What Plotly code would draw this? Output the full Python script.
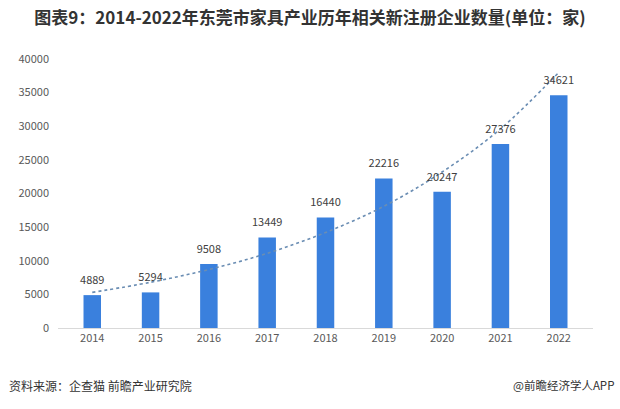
import plotly.graph_objects as go

years = ["2014", "2015", "2016", "2017", "2018", "2019", "2020", "2021", "2022"]
counts = [4889, 5294, 9508, 13449, 16440, 22216, 20247, 27376, 34621]
trend = [5300, 6800, 8700, 11100, 14200, 18100, 23200, 29600, 38000]
y_ticks = [0, 5000, 10000, 15000, 20000, 25000, 30000, 35000, 40000]

FONT = "Noto Sans CJK SC"

fig = go.Figure()
fig.add_trace(go.Bar(
    x=years, y=counts, width=0.3,
    marker=dict(color="#3a80dd", line=dict(width=0)),
    showlegend=False, hoverinfo="skip",
))
fig.add_trace(go.Scatter(
    x=years, y=trend, mode="lines",
    line=dict(color="#6a8db3", width=1.6, dash="dot", shape="spline"),
    showlegend=False, hoverinfo="skip",
))
fig.add_trace(go.Scatter(
    x=years, y=counts, mode="markers+text",
    marker=dict(size=12, opacity=0),
    text=[str(v) for v in counts], textposition="top center",
    textfont=dict(family=FONT, size=11, color="#404040"),
    cliponaxis=False, showlegend=False, hoverinfo="skip",
))

pw = 620 - 58 - 27
ph = 409 - 59 - 81


def px(x):
    return (x - 58) / pw


def py(y):
    return (409 - 81 - y) / ph


fig.update_layout(
    width=620, height=409,
    margin=dict(l=58, r=27, t=59, b=81),
    paper_bgcolor="white", plot_bgcolor="white",
    font=dict(family=FONT, color="#595959", size=11),
    title=dict(
        text="<b>图表9：2014-2022年东莞市家具产业历年相关新注册企业数量(单位：家)</b>",
        x=0.5, xanchor="center", y=0.955, yanchor="middle",
        font=dict(family=FONT, size=17, color="#333333"),
    ),
    xaxis=dict(
        showgrid=False, showline=True, linecolor="#d9d9d9", linewidth=1,
        ticks="", tickfont=dict(size=11, color="#595959"), automargin=False,
    ),
    yaxis=dict(
        range=[0, 40000], tickvals=y_ticks, ticktext=[str(v) for v in y_ticks],
        showgrid=False, zeroline=False, showline=False, ticks="",
        tickfont=dict(size=11, color="#595959"), ticklabelstandoff=8,
        automargin=False,
    ),
    bargap=0.7,
    annotations=[
        dict(text="资料来源：企查猫 前瞻产业研究院", x=px(7), y=py(385), xref="paper", yref="paper",
             showarrow=False, xanchor="left", yanchor="middle",
             font=dict(family=FONT, size=12, color="#333333")),
        dict(text="@前瞻经济学人APP", x=px(616), y=py(385), xref="paper", yref="paper",
             showarrow=False, xanchor="right", yanchor="middle",
             font=dict(family=FONT, size=11.5, color="#333333")),
    ],
)

fig.write_html("out.html", config={"displayModeBar": False},
               post_script="document.body.style.margin='0';")
